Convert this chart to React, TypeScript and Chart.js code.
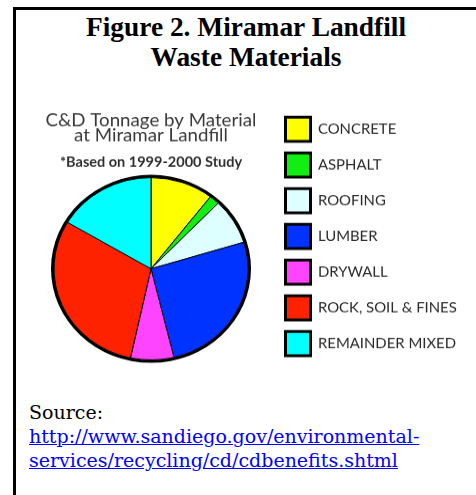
import React, { useEffect, useRef } from 'react';
import { Chart, registerables } from 'chart.js';

Chart.register(...registerables);

const MATERIALS = ['CONCRETE', 'ASPHALT', 'ROOFING', 'LUMBER', 'DRYWALL', 'ROCK, SOIL & FINES', 'REMAINDER MIXED'];
const SHARES = [10.5, 1.7, 8.1, 25.9, 7.2, 30.1, 16.5];
const COLORS = ['#ffff00', '#11ee11', '#ddffff', '#0033ff', '#ff44ff', '#ff2200', '#00ffff'];
const CHART_TITLE = ['C&D Tonnage by Material', 'at Miramar Landfill'];
const CHART_SUBTITLE = '*Based on 1999-2000 Study';
const HEADING = ['Figure 2. Miramar Landfill', 'Waste Materials'];
const SOURCE_LABEL = 'Source:';
const SOURCE_URL_LINES = ['http://www.sandiego.gov/environmental-', 'services/recycling/cd/cdbenefits.shtml'];
const SOURCE_URL = 'http://www.sandiego.gov/environmental-services/recycling/cd/cdbenefits.shtml';

const CW = 476;
const CH = 292;
const SQUASH = 0.94;
const LEGEND_FONT = { family: 'Lato, "Open Sans", sans-serif', size: 14.9 };
const LEGEND_PAD = 12.3;
const BOX_W = 25;
const BOX_H = 25.7;
const LEGEND_LEFT = 273.2;

function PieChart() {
  const ref = useRef<HTMLCanvasElement | null>(null);
  useEffect(() => {
    const canvas = ref.current;
    if (!canvas) return;
    const mctx = document.createElement('canvas').getContext('2d')!;
    mctx.font = `${LEGEND_FONT.size}px ${LEGEND_FONT.family}`;
    const textW = Math.max(...MATERIALS.map((m) => mctx.measureText(m).width));
    const legendW = LEGEND_PAD + BOX_W + LEGEND_FONT.size / 2 + textW + 10;
    const padRight = Math.max(0, CW - LEGEND_LEFT - legendW);

    const chart = new Chart(canvas, {
      type: 'pie',
      data: {
        labels: MATERIALS,
        datasets: [
          {
            label: 'outline',
            data: [1],
            backgroundColor: ['#000000'],
            borderWidth: 0,
            weight: 1,
          } as any,
          {
            label: 'Tonnage share',
            data: SHARES,
            backgroundColor: COLORS,
            borderColor: '#000000',
            borderWidth: 1,
            weight: 32,
          } as any,
        ],
      },
      options: {
        responsive: false,
        animation: false,
        radius: 100,
        layout: { padding: { left: 28.8, top: 4, bottom: CH - 286.4, right: padRight } },
        plugins: {
          tooltip: { enabled: false },
          title: {
            display: true,
            text: CHART_TITLE,
            fullSize: false,
            color: '#3a3a3a',
            font: { family: 'Lato, "Open Sans", sans-serif', size: 18.7, weight: 'normal', lineHeight: 0.9 },
            padding: { top: 9.15, bottom: 13.85 },
          },
          subtitle: {
            display: true,
            text: CHART_SUBTITLE,
            fullSize: false,
            color: '#2e2e2e',
            font: { family: 'Lato, "Open Sans", sans-serif', size: 14.5, weight: 'bold', lineHeight: 0.83 },
            padding: { top: 0, bottom: 0 },
          },
          legend: {
            display: true,
            position: 'right',
            onClick: () => {},
            labels: {
              boxWidth: BOX_W,
              boxHeight: BOX_H,
              padding: LEGEND_PAD,
              color: '#2a2a2a',
              font: LEGEND_FONT,
              generateLabels: () =>
                MATERIALS.map((m, i) => ({
                  text: m,
                  fillStyle: COLORS[i],
                  strokeStyle: '#000000',
                  lineWidth: 3,
                  hidden: false,
                  index: i,
                  fontColor: '#2a2a2a',
                })),
            },
          },
        },
      } as any,
    });
    return () => chart.destroy();
  }, []);
  return <canvas ref={ref} width={CW} height={CH} style={{ display: 'block' }} />;
}

export default function App() {
  return (
    <div style={{ position: 'absolute', left: 0, top: 0, width: 476, height: 495, overflow: 'hidden', background: '#ffffff' }}>
      <div
        style={{
          position: 'absolute',
          left: 13,
          top: 7,
          width: 463,
          height: 488,
          borderTop: '3px solid #000',
          borderLeft: '3px solid #000',
          boxSizing: 'border-box',
        }}
      />
      <div
        style={{
          position: 'absolute',
          left: 16,
          top: 12,
          width: 460,
          textAlign: 'center',
          fontFamily: '"Liberation Serif", serif',
          fontWeight: 'bold',
          fontSize: 27.4,
          lineHeight: '30px',
          color: '#000',
        }}
      >
        {HEADING[0]}
        <br />
        {HEADING[1]}
      </div>
      <div style={{ position: 'absolute', left: 0, top: 100, width: CW, height: CH, transform: `scaleY(${SQUASH})`, transformOrigin: '0 0' }}>
        <PieChart />
      </div>
      <div
        style={{
          position: 'absolute',
          left: 29,
          top: 400.4,
          fontFamily: '"DejaVu Serif", serif',
          fontSize: 19,
          lineHeight: '24px',
          color: '#000',
          whiteSpace: 'nowrap',
        }}
      >
        {SOURCE_LABEL}
        <br />
        <a href={SOURCE_URL} style={{ color: '#0000ff', textDecoration: 'underline' }}>
          {SOURCE_URL_LINES[0]}
          <br />
          {SOURCE_URL_LINES[1]}
        </a>
      </div>
    </div>
  );
}
